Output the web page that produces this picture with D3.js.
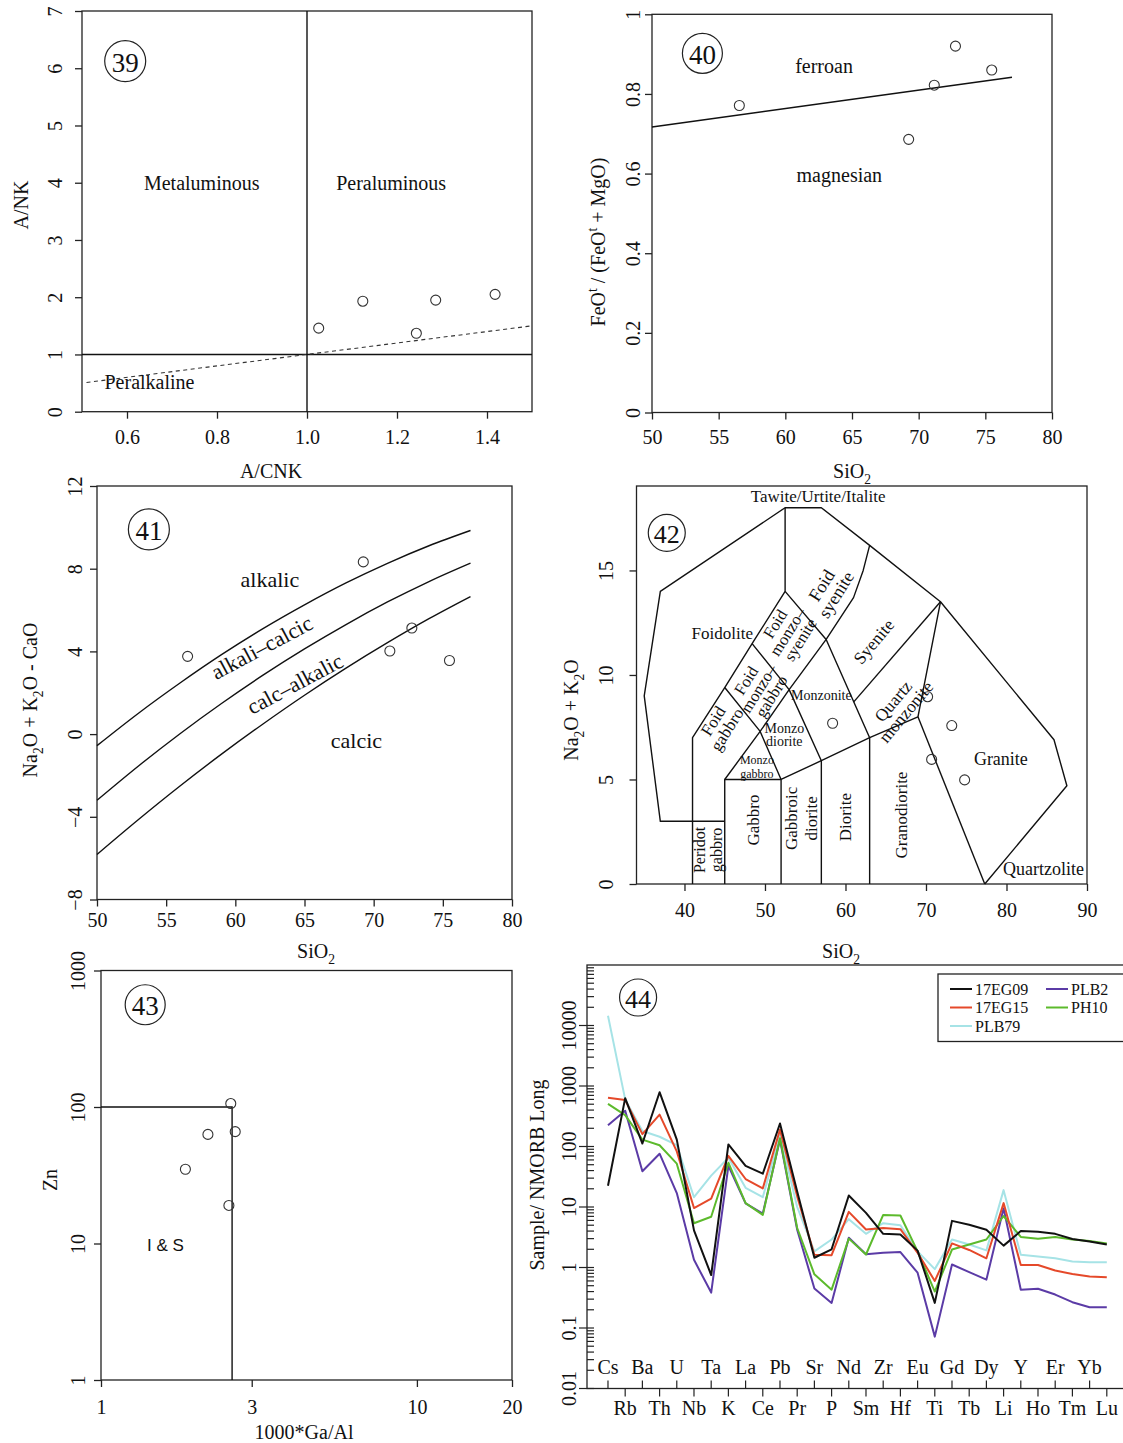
<!DOCTYPE html>
<html lang="en">
<head>
<meta charset="UTF-8">
<title>Granitoid discrimination diagrams 39-44</title>
<script src="https://d3js.org/d3.v7.min.js"></script>
<style>
  body { margin: 0; background: #fff; }
  svg { display: block; font-family: "Liberation Serif", "Times New Roman", serif; fill: #111; }
  .frame { fill: none; stroke: #222; stroke-width: 1.3; }
  .bound { fill: none; stroke: #111; stroke-width: 1.4; }
  .pt { fill: none; stroke: #333; stroke-width: 1.1; }
</style>
</head>
<body>
<svg id="chart" width="1123" height="1443"></svg>
<script>
// ---------- data ----------

// 39: A/CNK vs A/NK
const acnk = [1.026, 1.124, 1.243, 1.286, 1.418];
const ank = [1.46, 1.93, 1.37, 1.95, 2.05];
const ankLines = [[[0.5, 1], [1.5, 1]], [[1, 0], [1, 7]]];
const ankDashed = [[0.51, 0.51], [1.5, 1.5]];

// 40 and 41 share the SiO2 values
const sio2 = [56.55, 69.25, 71.17, 72.76, 75.48];
const feoRatio = [0.771, 0.686, 0.822, 0.920, 0.860];
const ferroanLine = [[50, 0.717], [77, 0.842]];

// 41: MALI
const mali = [3.76, 8.33, 4.02, 5.13, 3.56];
const maliX = [50, 53, 56, 59, 62, 65, 68, 71, 74, 77];
const maliAlkalic = [-0.56, 1.01, 2.47, 3.84, 5.10, 6.25, 7.31, 8.26, 9.11, 9.85];
const maliAlkCalcic = [-3.20, -1.54, 0.02, 1.48, 2.85, 4.12, 5.30, 6.39, 7.38, 8.27];
const maliCalcAlk = [-5.82, -4.13, -2.51, -0.97, 0.49, 1.88, 3.19, 4.42, 5.58, 6.65];

// 42: TAS (plutonic)
const tasSio2 = [70.2, 58.4, 73.2, 70.7, 74.8];
const tasAlk = [8.96, 7.69, 7.58, 5.96, 4.98];
const tasFields = [
  [[45, 3], [37, 3], [35, 9], [37, 14], [52.5, 18], [57, 18], [63, 16.2], [71.8, 13.5], [85.9, 6.9], [87.5, 4.7], [77.3, 0]],
  [[41, 0], [41, 7], [45, 9.4], [48.4, 11.5], [52.5, 14], [52.5, 18]],
  [[45, 0], [45, 5], [52, 5], [57, 5.9], [63, 7], [69, 8], [71.8, 13.5]],
  [[52, 0], [52, 5]],
  [[57, 0], [57, 5.9]],
  [[63, 0], [63, 7]],
  [[69, 8], [77.3, 0]],
  [[45, 5], [49.4, 7.3], [53, 9.3], [57.6, 11.7], [61, 13.7], [62.2, 15], [63, 16.2]],
  [[45, 9.4], [49.4, 7.3], [52, 5]],
  [[48.4, 11.5], [53, 9.3], [57, 5.9]],
  [[52.5, 14], [57.6, 11.7], [63, 7]],
  [[61, 8.7], [71.8, 13.5]]
];

// 43: Ga/Al vs Zn
const gaAl = [2.575, 2.18, 2.66, 1.85, 2.54];
const zn = [106, 63, 66, 35, 19];
const aTypeLine = [[1, 100], [2.6, 100], [2.6, 1]];

// 44: NMORB normalised spider diagram
const elements = ["Cs", "Rb", "Ba", "Th", "U", "Nb", "Ta", "K", "La", "Ce", "Pb", "Pr", "Sr", "P", "Nd",
  "Sm", "Zr", "Hf", "Eu", "Ti", "Gd", "Tb", "Dy", "Li", "Y", "Ho", "Er", "Tm", "Yb", "Lu"];
const s17EG09 = [22.5, 630, 112, 790, 130, 4.1, 0.75, 108, 48, 35.5, 240, 18, 1.45, 2.0, 15.5,
  8.0, 3.6, 3.5, 1.9, 0.26, 5.9, 5.1, 4.2, 2.3, 4.0, 3.9, 3.6, 2.95, 2.7, 2.4];
const s17EG15 = [640, 585, 160, 336, 83, 9.6, 13.7, 70, 29, 20.3, 190, 15, 1.62, 1.6, 8.3,
  4.25, 4.5, 4.3, 1.75, 0.6, 2.5, 1.95, 1.42, 11.6, 1.1, 1.1, 0.89, 0.78, 0.71, 0.69];
const sPLB79 = [14500, 600, 180, 145, 105, 14.5, 33, 65, 20.8, 14.5, 155, 10, 1.85, 2.9, 6.3,
  3.6, 5.4, 5.0, 1.85, 0.94, 2.9, 2.4, 1.92, 19, 1.62, 1.52, 1.42, 1.26, 1.22, 1.22];
const sPLB2 = [224, 390, 39, 76, 17, 1.34, 0.385, 48, 11.5, 7.8, 130, 4.2, 0.45, 0.26, 3.1,
  1.66, 1.75, 1.8, 0.82, 0.072, 1.12, 0.84, 0.63, 9.5, 0.43, 0.445, 0.357, 0.267, 0.22, 0.22];
const sPH10 = [505, 330, 130, 105, 52, 5.4, 6.9, 54, 11.6, 7.4, 137, 4.5, 0.77, 0.43, 3.0,
  1.64, 7.4, 7.25, 1.85, 0.4, 1.98, 2.4, 2.9, 7.1, 3.2, 3.0, 3.2, 2.9, 2.75, 2.5];
const spiderNames = ["17EG09", "17EG15", "PLB79", "PLB2", "PH10"];
const spiderColors = ["#111111", "#e5492a", "#a6e3e6", "#5b3ba6", "#5cba2c"];

// ---------- helpers ----------
const svg = d3.select("#chart");
const lineGen = (x, y) => d3.line().x(d => x(d[0])).y(d => y(d[1]));

function frame(L, R, T, B) {
  svg.append("rect").attr("class", "frame")
    .attr("x", L).attr("y", T).attr("width", R - L).attr("height", B - T);
}

function bottomAxis(x, B, ticks, fmt, labelY) {
  const g = svg.append("g").attr("transform", `translate(0,${B})`)
    .call(d3.axisBottom(x).tickValues(ticks).tickFormat(fmt).tickSize(7).tickSizeOuter(0));
  g.select(".domain").remove();
  g.attr("font-family", null).attr("font-size", 20);
  g.selectAll("line").attr("stroke", "#222").attr("stroke-width", 1.3);
  g.selectAll("text").attr("fill", "#111").attr("y", labelY - B).attr("dy", "0.35em");
}

function leftAxis(y, L, ticks, fmt, labelX) {
  const g = svg.append("g").attr("transform", `translate(${L},0)`)
    .call(d3.axisLeft(y).tickValues(ticks).tickFormat(fmt).tickSize(7).tickSizeOuter(0));
  g.select(".domain").remove();
  g.attr("font-family", null).attr("font-size", 20);
  g.selectAll("line").attr("stroke", "#222").attr("stroke-width", 1.3);
  g.selectAll("text").attr("fill", "#111").attr("x", null).attr("dy", null)
    .attr("text-anchor", "middle")
    .attr("transform", `translate(${labelX - L},0) rotate(-90) translate(0,7)`);
}

// text with sub/superscripts: parts = [[string, ""|"sub"|"sup"], ...]
function rich(cx, cy, parts, size, rotate) {
  const t = svg.append("text").attr("font-size", size).attr("text-anchor", "middle")
    .attr("transform", `translate(${cx},${cy})` + (rotate ? " rotate(-90)" : "") + ` translate(0,${0.35 * size})`);
  let shift = 0;
  parts.forEach(([s, kind]) => {
    const target = kind === "sub" ? size * 0.3 : kind === "sup" ? -size * 0.42 : 0;
    t.append("tspan").attr("dy", target - shift).attr("font-size", kind ? size * 0.68 : size).text(s);
    shift = target;
  });
}

function block(cx, cy, lines, size, angle = 0, lh = 1.05, family = null) {
  const t = svg.append("text").attr("font-size", size).attr("text-anchor", "middle")
    .attr("font-family", family)
    .attr("transform", `translate(${cx},${cy}) rotate(${angle})`);
  const n = lines.length;
  lines.forEach((s, i) => {
    t.append("tspan").attr("x", 0).attr("y", (i - (n - 1) / 2) * lh * size + 0.35 * size).text(s);
  });
}

function tag(cx, cy, r, txt, size) {
  svg.append("circle").attr("cx", cx).attr("cy", cy).attr("r", r)
    .attr("fill", "none").attr("stroke", "#222").attr("stroke-width", 1.2);
  block(cx, cy + 1, [txt], size);
}

function points(x, y, xs, ys, stroke = "#333") {
  svg.append("g").selectAll("circle").data(xs).join("circle")
    .attr("class", "pt").attr("stroke", stroke)
    .attr("cx", d => x(d)).attr("cy", (d, i) => y(ys[i])).attr("r", 5);
}

// ---------- 39 ----------
{
  const L = 82, R = 532, T = 11, B = 411.7;
  const x = d3.scaleLinear().domain([0.5, 1.5]).range([L, R]);
  const y = d3.scaleLinear().domain([0, 7]).range([B, T]);
  frame(L, R, T, B);
  ankLines.forEach(l => svg.append("path").attr("class", "bound").attr("stroke-width", 1.2).attr("d", lineGen(x, y)(l)));
  svg.append("path").attr("fill", "none").attr("stroke", "#333").attr("stroke-width", 1.1)
    .attr("stroke-dasharray", "4,3.5").attr("d", lineGen(x, y)(ankDashed));
  bottomAxis(x, B, [0.6, 0.8, 1.0, 1.2, 1.4], d3.format(".1f"), 437);
  leftAxis(y, L, d3.range(0, 8), d3.format("d"), 55);
  points(x, y, acnk, ank);
  block(x(0.766), y(4.0), ["Metaluminous"], 20);
  block(x(1.187), y(4.0), ["Peraluminous"], 20);
  svg.append("text").attr("font-size", 20).attr("x", x(0.55)).attr("y", y(0.525) + 7).text("Peralkaline");
  tag(x(0.596), y(6.125), 20.5, "39", 27);
  rich(271, 471, [["A/CNK", ""]], 20);
  rich(21, 205, [["A/NK", ""]], 20, true);
}

// ---------- 40 ----------
{
  const L = 652, R = 1052, T = 14.3, B = 412.5;
  const x = d3.scaleLinear().domain([50, 80]).range([L, R]);
  const y = d3.scaleLinear().domain([0, 1]).range([B, T]);
  frame(L, R, T, B);
  svg.append("path").attr("class", "bound").attr("d", lineGen(x, y)(ferroanLine));
  bottomAxis(x, B, d3.range(50, 81, 5), d3.format("d"), 437);
  leftAxis(y, L, [0, 0.2, 0.4, 0.6, 0.8, 1], v => (v === 0 || v === 1) ? String(v) : v.toFixed(1), 633);
  points(x, y, sio2, feoRatio);
  block(x(62.9), y(0.869), ["ferroan"], 20);
  block(x(64.05), y(0.597), ["magnesian"], 20);
  tag(x(53.78), y(0.902), 20, "40", 27);
  rich(852, 471, [["SiO", ""], ["2", "sub"]], 20);
  rich(598, 242, [["FeO", ""], ["t", "sup"], [" / (FeO", ""], ["t", "sup"], [" + MgO)", ""]], 20, true);
}

// ---------- 41 ----------
{
  const L = 97, R = 512, T = 486, B = 899.5;
  const x = d3.scaleLinear().domain([50, 80]).range([L, R]);
  const y = d3.scaleLinear().domain([-8, 12]).range([B, T]);
  frame(L, R, T, B);
  const curve = d3.line().curve(d3.curveMonotoneX).x((d, i) => x(maliX[i])).y(d => y(d));
  [maliAlkalic, maliAlkCalcic, maliCalcAlk].forEach(c =>
    svg.append("path").attr("class", "bound").attr("stroke-width", 1.5).attr("d", curve(c)));
  bottomAxis(x, B, d3.range(50, 81, 5), d3.format("d"), 920);
  leftAxis(y, L, [-8, -4, 0, 4, 8, 12], v => v < 0 ? "\u2212" + (-v) : String(v), 75);
  points(x, y, sio2, mali);
  block(x(62.5), y(7.5), ["alkalic"], 22);
  block(x(61.9), y(4.2), ["alkali\u2013calcic"], 22, -28);
  block(x(64.3), y(2.44), ["calc\u2013alkalic"], 22, -28);
  block(x(68.75), y(-0.3), ["calcic"], 22);
  tag(x(53.75), y(9.9), 20.5, "41", 27);
  rich(316, 951, [["SiO", ""], ["2", "sub"]], 20);
  rich(30, 700, [["Na", ""], ["2", "sub"], ["O + K", ""], ["2", "sub"], ["O - CaO", ""]], 20, true);
}

// ---------- 42 ----------
{
  const L = 636.5, R = 1087, T = 486, B = 884;
  const x = d3.scaleLinear().domain([34.04, 90]).range([L, R]);
  const y = d3.scaleLinear().domain([0, 19.04]).range([B, T]);
  frame(L, R, T, B);
  tasFields.forEach(f => svg.append("path").attr("class", "bound").attr("stroke-width", 1.3)
    .attr("stroke-linejoin", "round").attr("d", lineGen(x, y)(f)));
  bottomAxis(x, B, d3.range(40, 91, 10), d3.format("d"), 910);
  leftAxis(y, L, [0, 5, 10, 15], d3.format("d"), 606);
  points(x, y, tasSio2, tasAlk, "#555");
  block(x(56.6), y(18.55), ["Tawite/Urtite/Italite"], 17);
  block(x(44.7), y(12.0), ["Foidolite"], 17);
  block(x(57.9), y(14.07), ["Foid", "syenite"], 18, -58, 0.95);
  block(x(52.8), y(12.07), ["Foid", "monzo\u2013", "syenite"], 16.5, -58, 0.9);
  block(x(49.2), y(9.36), ["Foid", "monzo\u2013", "gabbro"], 16.5, -58, 0.9);
  block(x(44.4), y(7.6), ["Foid", "gabbro"], 17, -58, 0.95);
  block(x(57.0), y(9.04), ["Monzonite"], 14);
  block(x(63.5), y(11.6), ["Syenite"], 17.5, -50);
  block(x(66.7), y(8.5), ["Quartz", "monzonite"], 17.5, -50, 0.95);
  block(x(52.4), y(7.15), ["Monzo", "diorite"], 14, 0, 0.92);
  block(x(49.0), y(5.62), ["Monzo", "gabbro"], 12, 0, 1.2);
  block(x(48.5), y(3.06), ["Gabbro"], 17, -90);
  block(x(54.5), y(3.14), ["Gabbroic", "diorite"], 17, -90, 1.2);
  block(x(60.0), y(3.2), ["Diorite"], 17, -90);
  block(x(66.9), y(3.3), ["Granodiorite"], 17, -90);
  block(x(42.9), y(1.63), ["Peridot", "gabbro"], 16, -90, 1.05);
  block(x(79.3), y(6.0), ["Granite"], 18);
  block(x(84.6), y(0.75), ["Quartzolite"], 18);
  tag(x(37.8), y(16.8), 18.5, "42", 26);
  rich(841, 951, [["SiO", ""], ["2", "sub"]], 20);
  rich(571, 710, [["Na", ""], ["2", "sub"], ["O + K", ""], ["2", "sub"], ["O", ""]], 20, true);
}

// ---------- 43 ----------
{
  const L = 101, R = 512, T = 970.5, B = 1380;
  const x = d3.scaleLog().domain([1, 20]).range([L, R]);
  const y = d3.scaleLog().domain([1, 1000]).range([B, T]);
  frame(L, R, T, B);
  svg.append("path").attr("class", "bound").attr("d", lineGen(x, y)(aTypeLine));
  bottomAxis(x, B, [1, 3, 10, 20], d3.format("d"), 1407);
  leftAxis(y, L, [1, 10, 100, 1000], d3.format("d"), 78);
  points(x, y, gaAl, zn);
  block(x(1.6), y(9.8), ["I & S"], 17, 0, 1, '"Liberation Sans", Arial, sans-serif');
  tag(x(1.38), y(561), 20, "43", 27);
  rich(304, 1432, [["1000*Ga/Al", ""]], 20);
  rich(50, 1180, [["Zn", ""]], 20, true);
}

// ---------- 44 ----------
{
  const L = 587, R = 1124, T = 965, B = 1388.5;
  const x = d3.scaleLinear().domain([-1.22, 30]).range([L, R]);
  const y = d3.scaleLog().domain([0.01, 1e5]).range([B, T]);
  frame(L, R, T, B);

  // log axis: majors outside, minors inside
  const ax = svg.append("g").attr("stroke", "#222").attr("stroke-width", 1.2);
  d3.range(-2, 5).forEach(p => {
    d3.range(1, 10).forEach(k => {
      const v = k * Math.pow(10, p);
      ax.append("line").attr("x1", L).attr("x2", L + 7).attr("y1", y(v)).attr("y2", y(v));
    });
  });
  const majors = [0.01, 0.1, 1, 10, 100, 1000, 10000];
  majors.forEach(v => ax.append("line").attr("x1", L - 8).attr("x2", L).attr("y1", y(v)).attr("y2", y(v)));
  svg.append("g").selectAll("text").data(majors).join("text")
    .attr("font-size", 20).attr("text-anchor", "middle")
    .attr("transform", d => `translate(569,${y(d)}) rotate(-90) translate(0,7)`)
    .text(d => String(d));

  // element axis: alternating rows
  elements.forEach((el, i) => {
    const up = i % 2 === 0;
    ax.append("line").attr("x1", x(i)).attr("x2", x(i)).attr("y1", B).attr("y2", up ? B - 8 : B + 8);
    svg.append("text").attr("font-size", 20).attr("text-anchor", "middle")
      .attr("x", x(i)).attr("y", (up ? 1367 : 1408) + 7).text(el);
  });

  const series = [s17EG09, s17EG15, sPLB79, sPLB2, sPH10];
  const spider = d3.line().x((d, i) => x(i)).y(d => y(d));
  [2, 3, 4, 1, 0].forEach(k =>
    svg.append("path").attr("fill", "none").attr("stroke", spiderColors[k])
      .attr("stroke-width", 2).attr("stroke-linejoin", "round").attr("d", spider(series[k])));

  // legend
  svg.append("rect").attr("x", 938).attr("y", 974).attr("width", 200).attr("height", 67.5)
    .attr("fill", "#fff").attr("stroke", "#222").attr("stroke-width", 1.3);
  const slots = [[950, 989], [950, 1007.5], [950, 1026], [1046, 989], [1046, 1007.5]];
  spiderNames.forEach((name, k) => {
    const [lx, ly] = slots[k];
    svg.append("line").attr("x1", lx).attr("x2", lx + 22).attr("y1", ly).attr("y2", ly)
      .attr("stroke", spiderColors[k]).attr("stroke-width", 2);
    svg.append("text").attr("font-size", 16).attr("x", lx + 25).attr("y", ly + 5.5).text(name);
  });

  tag(x(1.75), y(29000), 18.5, "44", 26);
  rich(537, 1175, [["Sample/ NMORB Long", ""]], 20, true);
}
</script>
</body>
</html>
